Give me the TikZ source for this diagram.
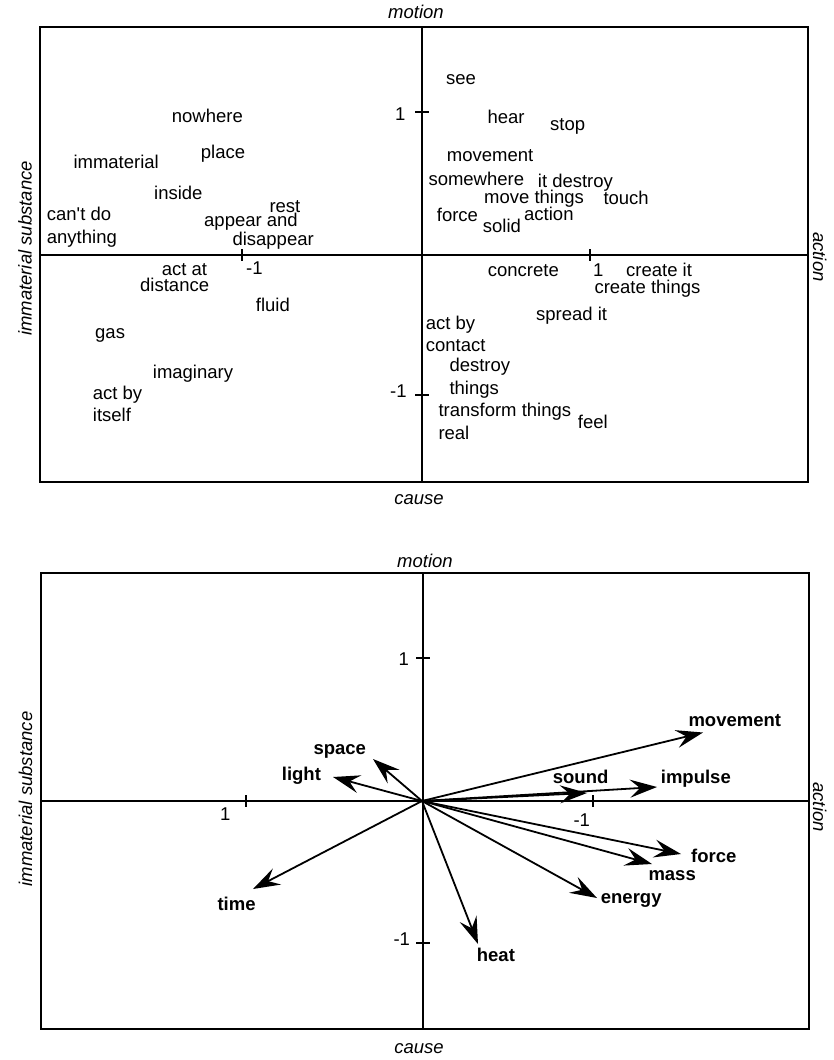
\documentclass[tikz,border=0pt]{standalone}
\usepackage{fontspec}
\setmainfont{Liberation Sans}
\usetikzlibrary{arrows.meta}

\begin{document}
\begin{tikzpicture}[x=1pt,y=-1pt,
  lbl/.style={anchor=base west, inner sep=0pt, font=\fontsize{18.5}{20}\selectfont},
  vlbl/.style={anchor=base west, inner sep=0pt, font=\fontsize{18.5}{20}\selectfont\bfseries},
  axlbl/.style={anchor=base, inner sep=0pt, font=\fontsize{18.5}{20}\selectfont\itshape},
  panel/.style={line width=1.6pt},
  axisline/.style={line width=1.4pt},
  tickmark/.style={line width=1.2pt},
  vec/.style={line width=1.8pt, -{Stealth[length=27pt,width=18pt,inset=10pt]}},
]
\useasboundingbox (0,0) rectangle (834,1060);

% ---------------- upper plot: word positions ----------------
\draw[panel] (40,27) rectangle (808,482);
\draw[axisline] (422,27) -- (422,482);
\draw[axisline] (40,255) -- (808,255);
% ticks
\draw[tickmark] (242,249) -- (242,261);
\draw[tickmark] (590,249) -- (590,261);
\draw[tickmark] (415,112) -- (429,112);
\draw[tickmark] (415,395) -- (429,395);
\node[lbl] (tx1) at (246,274) {-1};
\node[lbl] (tx2) at (593,276) {1};
\node[lbl] (ty1) at (395,120) {1};
\node[lbl] (ty2) at (390,397) {-1};
% axis titles
\node[axlbl] (aTop1) at (416,18) {motion};
\node[axlbl] (aBot1) at (419,504) {cause};
\node[axlbl, rotate=90] (aLeft1) at (31.7,248.5) {immaterial substance};
\node[axlbl, rotate=-90] (aRight1) at (813,257) {action};
% words, upper-left quadrant
\node[lbl] (wNowhere) at (171.7,122.7) {nowhere};
\node[lbl] (wPlace) at (200.7,158.3) {place};
\node[lbl] (wImmat) at (73.3,168.3) {immaterial};
\node[lbl] (wInside) at (154,199.3) {inside};
\node[lbl] (wCant) at (46.7,220.7) {can\textquotesingle t do};
\node[lbl] (wAnything) at (46.7,243.3) {anything};
\node[lbl] (wRest) at (269.3,212.5) {rest};
\node[lbl] (wAppear) at (204,226.7) {appear and};
\node[lbl] (wDisapp) at (232.3,245) {disappear};
% upper-right quadrant
\node[lbl] (wSee) at (446,84) {see};
\node[lbl] (wHear) at (487.3,123.3) {hear};
\node[lbl] (wStop) at (550,130) {stop};
\node[lbl] (wMovement) at (446.7,161.7) {movement};
\node[lbl] (wSomewhere) at (428.3,185) {somewhere};
\node[lbl] (wItDestroy) at (537.7,187.7) {it destroy};
\node[lbl] (wMoveThings) at (484,203.3) {move things};
\node[lbl] (wTouch) at (603.3,204) {touch};
\node[lbl] (wForce) at (436.7,221.7) {force};
\node[lbl] (wSolid) at (482.7,232.7) {solid};
\node[lbl] (wAction) at (524,220) {action};
% lower-left quadrant
\node[lbl] (wActAt) at (161.7,275) {act at};
\node[lbl] (wDistance) at (140,291.7) {distance};
\node[lbl] (wFluid) at (255.7,311.7) {fluid};
\node[lbl] (wGas) at (95,338.3) {gas};
\node[lbl] (wImag) at (152.7,378.3) {imaginary};
\node[lbl] (wActBy) at (92.7,399.3) {act by};
\node[lbl] (wItself) at (92.7,421.7) {itself};
% lower-right quadrant
\node[lbl] (wConcrete) at (487.7,276) {concrete};
\node[lbl] (wCreateIt) at (626,276) {create it};
\node[lbl] (wCreateTh) at (594.3,293.3) {create things};
\node[lbl] (wSpread) at (536,320) {spread it};
\node[lbl] (wActBy2) at (425.7,329.3) {act by};
\node[lbl] (wContact) at (425.7,351) {contact};
\node[lbl] (wDestroy) at (449.3,371.7) {destroy};
\node[lbl] (wThings) at (449.3,394) {things};
\node[lbl] (wTransform) at (438.3,416) {transform things};
\node[lbl] (wFeel) at (577.7,428.3) {feel};
\node[lbl] (wReal) at (438.3,439.3) {real};

% ---------------- lower plot: concept vectors ----------------
\draw[panel] (41,573) rectangle (809,1029);
\draw[axisline] (423,573) -- (423,1029);
\draw[axisline] (41,801) -- (809,801);
% ticks
\draw[tickmark] (246,795) -- (246,807);
\draw[tickmark] (593,795) -- (593,807);
\draw[tickmark] (416,658) -- (430,658);
\draw[tickmark] (416,943) -- (430,943);
\node[lbl] (bx1) at (220,820) {1};
\node[lbl] (bx2) at (573.3,826) {-1};
\node[lbl] (by1) at (398.3,665) {1};
\node[lbl] (by2) at (393.3,945) {-1};
% axis titles
\node[axlbl] (aTop2) at (425,567) {motion};
\node[axlbl] (aBot2) at (419,1053) {cause};
\node[axlbl, rotate=90] (aLeft2) at (32,799) {immaterial substance};
\node[axlbl, rotate=-90] (aRight2) at (813,807) {action};
% vectors from the common origin
\coordinate (O) at (422,801);
\coordinate (pMovement) at (703,732.5);
\coordinate (pSound) at (587,793);
\coordinate (pImpulse) at (657,787);
\coordinate (pSpace) at (373,759);
\coordinate (pLight) at (333,777);
\coordinate (pTime) at (253,889);
\coordinate (pHeat) at (478,944);
\coordinate (pEnergy) at (597,898);
\coordinate (pMass) at (652,864);
\coordinate (pForce) at (681,854);
\foreach \p in {pMovement,pSound,pImpulse,pSpace,pLight,pTime,pHeat,pEnergy,pMass,pForce}
  \draw[vec] (O) -- (\p);
\node[vlbl] (vMovement) at (688.3,726.7) {movement};
\node[vlbl] (vSound) at (552.7,783.3) {sound};
\node[vlbl] (vImpulse) at (660.7,783.3) {impulse};
\node[vlbl] (vSpace) at (313.3,754) {space};
\node[vlbl] (vLight) at (281.7,780) {light};
\node[vlbl] (vTime) at (217.3,910) {time};
\node[vlbl] (vHeat) at (476.7,961.7) {heat};
\node[vlbl] (vEnergy) at (600.7,903.3) {energy};
\node[vlbl] (vMass) at (648.3,880.7) {mass};
\node[vlbl] (vForce) at (691,862.7) {force};
\end{tikzpicture}
\end{document}
